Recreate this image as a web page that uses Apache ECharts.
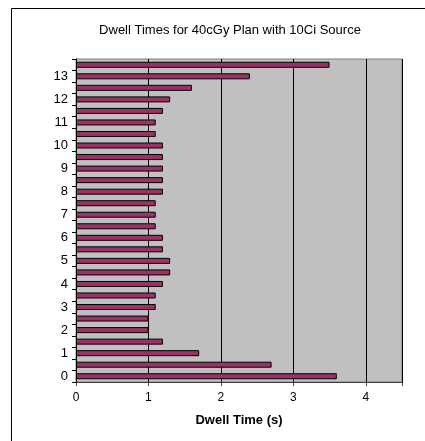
<!DOCTYPE html>
<html><head><meta charset="utf-8">
<script src="https://cdn.jsdelivr.net/npm/echarts@6/dist/echarts.min.js"></script>
<style>html,body{margin:0;padding:0;background:#fff}#c{width:425px;height:441px}</style>
</head><body><div id="c"></div>
<script>
// Dwell positions (bottom to top); labels every other position
const categories = ['0','0.5','1','1.5','2','2.5','3','3.5','4','4.5','5','5.5','6','6.5','7','7.5','8','8.5','9','9.5','10','10.5','11','11.5','12','12.5','13','13.5'];
const dwellTimes = [3.6,2.7,1.7,1.2,1.0,1.0,1.1,1.1,1.2,1.3,1.3,1.2,1.2,1.1,1.1,1.1,1.2,1.2,1.2,1.2,1.2,1.1,1.1,1.2,1.3,1.6,2.4,3.5];
const xTicks = [0,1,2,3,4];
const chart = echarts.init(document.getElementById('c'));
const font = 'Liberation Sans, Arial, sans-serif';
chart.setOption({
  animation:false,
  backgroundColor:'#fff',
  title:{text:'Dwell Times for 40cGy Plan with 10Ci Source',left:225,textAlign:'center',top:19,
    textStyle:{fontFamily:font,fontSize:13,fontWeight:'normal',color:'#000'}},
  graphic:[{type:'rect',shape:{x:11.5,y:8.5,width:600,height:600},style:{fill:'none',stroke:'#000',lineWidth:1},z:-1}],
  grid:{left:76,top:59,right:23,bottom:59,show:true,backgroundColor:'#C0C0C0',borderColor:'#808080',borderWidth:1},
  xAxis:{type:'value',min:0,max:4.5,interval:1,
    name:'Dwell Time (s)',nameLocation:'middle',nameGap:32,
    nameTextStyle:{fontFamily:font,fontSize:13,fontWeight:'bold',color:'#000'},
    axisLine:{show:true,lineStyle:{color:'#404040'}},
    axisTick:{show:true,length:4,lineStyle:{color:'#404040'}},
    axisLabel:{fontFamily:font,fontSize:12,color:'#000',margin:10,
      formatter:v=> xTicks.indexOf(v)>=0 ? String(v) : ''},
    splitLine:{show:true,lineStyle:{color:'#000',width:1}}},
  yAxis:{type:'category',data:categories,
    axisLine:{show:true,lineStyle:{color:'#000'}},
    axisTick:{show:true,interval:0,length:4,lineStyle:{color:'#000'}},
    axisLabel:{interval:1,fontFamily:font,fontSize:13,color:'#000',margin:8},
    splitLine:{show:false}},
  series:[{type:'bar',data:dwellTimes,barWidth:6,
    itemStyle:{color:'#993366',borderColor:'#000',borderWidth:1}}]
});
</script></body></html>
